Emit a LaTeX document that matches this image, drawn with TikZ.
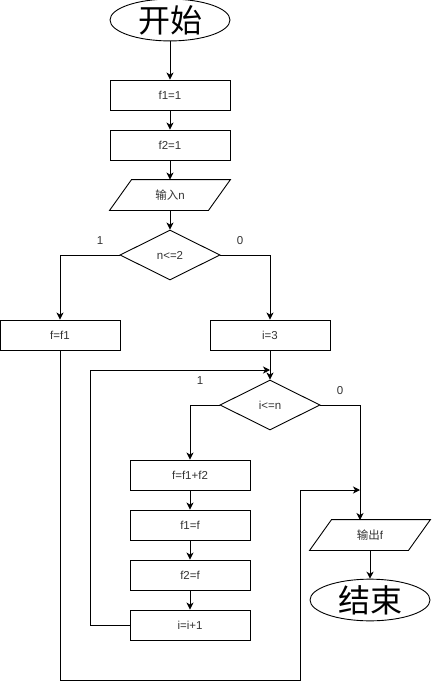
\documentclass[tikz,border=0pt]{standalone}
\usepackage{fontspec}
\setmainfont{Liberation Sans}
\newfontfamily\cjk{Noto Sans CJK SC}
\usetikzlibrary{shapes.geometric,arrows.meta}
\begin{document}
\begin{tikzpicture}[x=1pt,y=-1pt,
  line width=0.9pt,
  txt/.style={font=\fontsize{11.5}{13}\selectfont, text=black!80},
  box/.style={txt, draw, minimum width=120pt, minimum height=30pt, inner sep=0pt},
  pbox/.style={txt, minimum width=120pt, minimum height=30pt, inner sep=0pt},
  term/.style={draw, ellipse, minimum width=120pt, minimum height=40pt, inner sep=0pt, font=\cjk\fontsize{32}{34}\selectfont},
  dec/.style={txt, draw, diamond, minimum width=100pt, minimum height=50pt, inner sep=0pt},
  arr/.style={-{Stealth[length=7pt,width=7pt,inset=2pt]}},
  lab/.style={txt, inner sep=0pt}]
\useasboundingbox (0,0) rectangle (431,682);
% nodes
\node[term] (start) at (170,20) {开始};
\node[box] (f1) at (170,95) {f1=1};
\node[box] (f2) at (170,145) {f2=1};
\node[pbox] (inp) at (170,195) {{\cjk 输入}n};
\draw (inp.south west) -- ([xshift=22pt]inp.north west) -- (inp.north east) -- ([xshift=-22pt]inp.south east) -- cycle;
\node[dec] (d1) at (170,255) {n<=2};
\node[box] (ff1) at (60,335) {f=f1};
\node[box] (i3) at (270,335) {i=3};
\node[dec] (d2) at (270,405) {i<=n};
\node[box] (fsum) at (190,475) {f=f1+f2};
\node[box] (f1f) at (190,525) {f1=f};
\node[box] (f2f) at (190,575) {f2=f};
\node[box] (inc) at (190,625) {i=i+1};
\node[pbox] (out) at (370,535) {{\cjk 输出}f};
\draw (out.south west) -- ([xshift=22pt]out.north west) -- (out.north east) -- ([xshift=-22pt]out.south east) -- cycle;
\node[term] (end) at (370,600) {结束};
% coordinates
\coordinate (c1) at (60,255);
\coordinate (c2) at (270,255);
\coordinate (c3) at (190,405);
\coordinate (c4) at (360,405);
\coordinate (outin) at (360,520);
\coordinate (l1) at (90,625);
\coordinate (l2) at (90,370);
\coordinate (join) at (270,370);
\coordinate (b1) at (60,680);
\coordinate (b2) at (300,680);
\coordinate (b3) at (300,490);
\coordinate (join2) at (360,490);
% connectors
\draw[arr] (start) -- (f1);
\draw[arr] (f1) -- (f2);
\draw[arr] (f2) -- (inp);
\draw[arr] (inp) -- (d1);
\draw[arr] (d1.west) -- (c1) -- (ff1.north);
\draw[arr] (d1.east) -- (c2) -- (i3.north);
\draw[arr] (i3) -- (d2);
\draw[arr] (d2.west) -- (c3) -- (fsum.north);
\draw[arr] (d2.east) -- (c4) -- (outin);
\draw[arr] (fsum) -- (f1f);
\draw[arr] (f1f) -- (f2f);
\draw[arr] (f2f) -- (inc);
\draw[arr] (inc.west) -- (l1) -- (l2) -- (join);
\draw[arr] (ff1.south) -- (b1) -- (b2) -- (b3) -- (join2);
\draw[arr] (out) -- (end);
% labels
\node[lab] (t1) at (100,241) {1};
\node[lab] (t2) at (240,241) {0};
\node[lab] (t3) at (200,381) {1};
\node[lab] (t4) at (340,391) {0};
\end{tikzpicture}
\end{document}
